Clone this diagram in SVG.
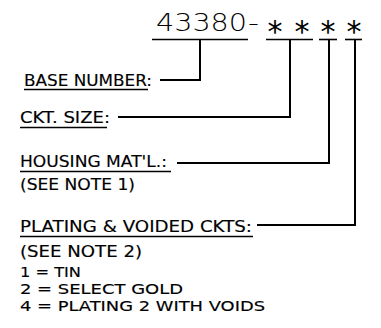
<svg xmlns="http://www.w3.org/2000/svg" width="381" height="328" viewBox="0 0 381 328">
<style>
text{font-family:"DejaVu Sans","Liberation Sans",sans-serif;fill:#000}
.hdr{font-size:25px;font-weight:200}
.ast{font-size:30px;font-family:"DejaVu Sans",sans-serif}
.lbl{font-size:16px;stroke:#000;stroke-width:0.15}
.note{font-size:15px;stroke:#000;stroke-width:0.15}
.big{font-size:14.5px;stroke:#000;stroke-width:0.15}
.ln{stroke:#000;stroke-width:2;fill:none}
.ul{stroke:#000;stroke-width:1.6;fill:none}
</style>
<rect width="381" height="328" fill="#fff"/>
<g id="part-number">
<text class="hdr" x="156" y="31" textLength="91" lengthAdjust="spacingAndGlyphs">43380</text>
<text class="hdr" x="248" y="31" textLength="11" lengthAdjust="spacingAndGlyphs">-</text>
<text class="ast" x="275" y="42" text-anchor="middle">*</text>
<text class="ast" x="302" y="42" text-anchor="middle">*</text>
<text class="ast" x="328" y="42" text-anchor="middle">*</text>
<text class="ast" x="354" y="42" text-anchor="middle">*</text>
<line class="ul" x1="152" y1="39.5" x2="248" y2="39.5"/>
<line class="ul" x1="266" y1="39.5" x2="313" y2="39.5"/>
<line class="ul" x1="319" y1="39.5" x2="337" y2="39.5"/>
<line class="ul" x1="345" y1="39.5" x2="362" y2="39.5"/>
</g>
<g id="base-number">
<text class="lbl" x="24" y="86" textLength="128" lengthAdjust="spacingAndGlyphs">BASE NUMBER:</text>
<line class="ul" x1="24" y1="89.5" x2="148" y2="89.5"/>
</g>
<g id="ckt-size">
<text class="lbl" x="20" y="123" textLength="90" lengthAdjust="spacingAndGlyphs">CKT. SIZE:</text>
<line class="ul" x1="20" y1="127.5" x2="107" y2="127.5"/>
</g>
<g id="housing">
<text class="lbl" x="20" y="167" textLength="147" lengthAdjust="spacingAndGlyphs">HOUSING MAT'L.:</text>
<line class="ul" x1="20" y1="171.5" x2="171" y2="171.5"/>
<text class="note" x="20" y="190" textLength="115" lengthAdjust="spacingAndGlyphs">(SEE NOTE 1)</text>
</g>
<g id="plating">
<text class="lbl" x="20" y="232" textLength="232" lengthAdjust="spacingAndGlyphs">PLATING &amp; VOIDED CKTS:</text>
<line class="ul" x1="20" y1="236.5" x2="253" y2="236.5"/>
<text class="note" x="20" y="257" textLength="122" lengthAdjust="spacingAndGlyphs">(SEE NOTE 2)</text>
<text class="big" x="20" y="277" textLength="61" lengthAdjust="spacingAndGlyphs">1 = TIN</text>
<text class="big" x="20" y="294" textLength="163" lengthAdjust="spacingAndGlyphs">2 = SELECT GOLD</text>
<text class="big" x="20" y="311" textLength="245" lengthAdjust="spacingAndGlyphs">4 = PLATING 2 WITH VOIDS</text>
</g>
<g id="connectors">
<polyline class="ln" points="160,80 200,80 200,40"/>
<polyline class="ln" points="118,117 290,117 290,40"/>
<polyline class="ln" points="177,163 329,163 329,40"/>
<polyline class="ln" points="257,225 355,225 355,40"/>
</g>
</svg>
